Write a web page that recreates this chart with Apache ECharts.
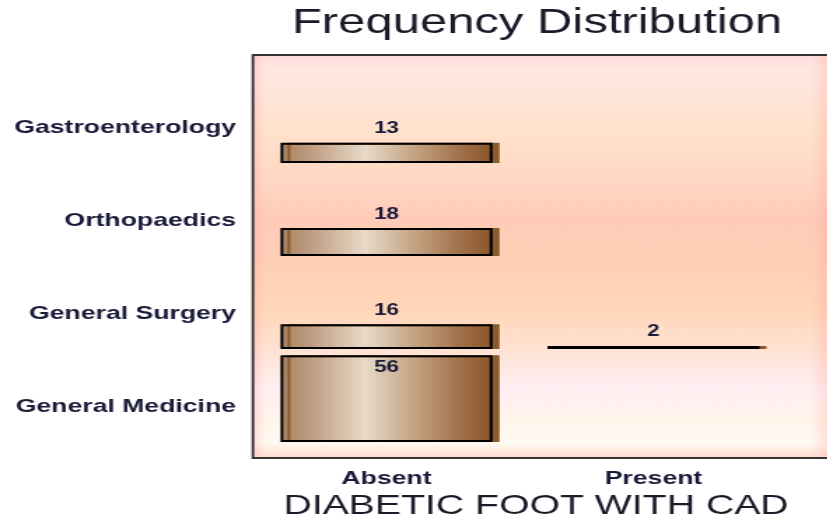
<!DOCTYPE html>
<html>
<head>
<meta charset="utf-8">
<script src="https://cdn.jsdelivr.net/npm/echarts@6/dist/echarts.min.js"></script>
<style>
  html, body { margin: 0; padding: 0; background: #fff; overflow: hidden; }
  #wrap { width: 828px; height: 525px; overflow: hidden; position: relative; }
  #chart { position: absolute; left: 0; top: 0; height: 525px; transform-origin: 0 0; }
</style>
</head>
<body>
<div id="wrap"><div id="chart"></div></div>
<script>
// Department rows, top to bottom
const departments = ['Gastroenterology', 'Orthopaedics', 'General Surgery', 'General Medicine'];
// Column categories
const cadStatus = ['Absent', 'Present'];
// Counts per department
const absentCounts = [13, 18, 16, 56];
const presentCounts = [0, 0, 2, 0];
const chartTitle = 'Frequency Distribution';
const axisTitle = 'DIABETIC FOOT WITH CAD';

// The drawing is laid out narrow and widened horizontally.
const SX = 1.4;
const W = 828 / SX;
const el = document.getElementById('chart');
el.style.width = W + 'px';
el.style.transform = 'scaleX(' + SX + ')';
const X = v => v / SX;

const FONT = 'Liberation Sans, Arial, sans-serif';
const INK = '#1a1a3a';

const PANEL_L = 253, PANEL_R = 832, PANEL_T = 55, PANEL_B = 458;
const ROW_TOP = 70, ROW_H = 93;
const Y_MAX = 60;

const barFill = new echarts.graphic.LinearGradient(0, 0, 1, 0, [
  { offset: 0.00, color: '#a88262' },
  { offset: 0.12, color: '#bc987c' },
  { offset: 0.40, color: '#e7dac8' },
  { offset: 0.62, color: '#c7a687' },
  { offset: 0.85, color: '#a0714a' },
  { offset: 1.00, color: '#8a5629' }
]);

const grids = [], xAxes = [], yAxes = [], series = [];
departments.forEach((dept, i) => {
  grids.push({ left: X(PANEL_L), width: X(534), top: ROW_TOP + ROW_H * i, height: ROW_H });
  xAxes.push({
    gridIndex: i, type: 'category', data: cadStatus,
    axisLine: { show: false }, axisTick: { show: false }, splitLine: { show: false },
    axisLabel: {
      show: i === departments.length - 1, margin: 27,
      fontFamily: FONT, fontWeight: 'bold', fontSize: 19, color: INK
    }
  });
  yAxes.push({
    gridIndex: i, type: 'value', min: 0, max: Y_MAX,
    axisLine: { show: false }, axisTick: { show: false },
    axisLabel: { show: false }, splitLine: { show: false },
    name: dept, nameLocation: 'middle', nameRotate: 0, nameGap: X(PANEL_L - 236),
    nameTextStyle: {
      align: 'right', verticalAlign: 'top', lineHeight: 22,
      fontFamily: FONT, fontWeight: 'bold', fontSize: 19, color: INK
    }
  });
  const values = [absentCounts[i], presentCounts[i]];
  series.push({
    type: 'bar', name: dept, xAxisIndex: i, yAxisIndex: i,
    barWidth: X(212),
    data: values.map(v => v === 0 ? '-' : {
      value: v,
      label: { position: v > Y_MAX * 0.75 ? 'insideTop' : 'top', distance: v > Y_MAX * 0.75 ? 4 : 6 }
    }),
    itemStyle: {
      color: barFill, borderColor: '#000', borderWidth: 2,
      shadowColor: '#8b5a2b', shadowOffsetX: X(7), shadowOffsetY: 0, shadowBlur: 0
    },
    label: {
      show: true, fontFamily: FONT, fontWeight: 'bold', fontSize: 16, color: INK
    }
  });
});

const chart = echarts.init(el, null, { renderer: 'canvas' });
chart.setOption({
  backgroundColor: '#ffffff',
  animation: false,
  title: [
    {
      text: chartTitle, left: X(537), top: 6, textAlign: 'center', padding: 0,
      textStyle: { fontFamily: FONT, fontWeight: 'normal', fontSize: 35, color: '#1a1a28' }
    },
    {
      text: axisTitle, left: X(536), top: 492, textAlign: 'center', padding: 0,
      textStyle: { fontFamily: FONT, fontWeight: 'normal', fontSize: 28, color: '#1a1a28' }
    }
  ],
  graphic: [
    {
      type: 'rect', z: -10, silent: true,
      shape: { x: X(PANEL_L), y: PANEL_T, width: X(PANEL_R - PANEL_L), height: PANEL_B - PANEL_T },
      style: {
        fill: new echarts.graphic.LinearGradient(0, 0, 0, 1, [
          { offset: 0.00, color: '#ffdcdc' },
          { offset: 0.04, color: '#ffe8e2' },
          { offset: 0.19, color: '#ffe2cc' },
          { offset: 0.33, color: '#ffd6c2' },
          { offset: 0.40, color: '#ffcbb8' },
          { offset: 0.51, color: '#ffcfb6' },
          { offset: 0.63, color: '#ffd6b8' },
          { offset: 0.76, color: '#ffe6dc' },
          { offset: 0.83, color: '#fff0f4' },
          { offset: 0.90, color: '#fff4ea' },
          { offset: 0.96, color: '#fffaf2' },
          { offset: 0.99, color: '#ffe2d6' },
          { offset: 1.00, color: '#ffdcd0' }
        ]),
        stroke: '#333333', lineWidth: 2
      }
    },
    {
      type: 'rect', z: -9, silent: true,
      shape: { x: X(PANEL_L + 1), y: PANEL_T + 1, width: X(PANEL_R - PANEL_L - 2), height: PANEL_B - PANEL_T - 2 },
      style: {
        fill: new echarts.graphic.LinearGradient(0, 0, 1, 0, [
          { offset: 0.000, color: 'rgba(255,150,150,0.30)' },
          { offset: 0.022, color: 'rgba(255,200,200,0.0)' },
          { offset: 0.960, color: 'rgba(255,200,200,0.0)' },
          { offset: 0.985, color: 'rgba(255,150,140,0.18)' },
          { offset: 1.000, color: 'rgba(255,150,140,0.25)' }
        ])
      }
    }
  ],
  grid: grids,
  xAxis: xAxes,
  yAxis: yAxes,
  series: series
});
</script>
</body>
</html>
